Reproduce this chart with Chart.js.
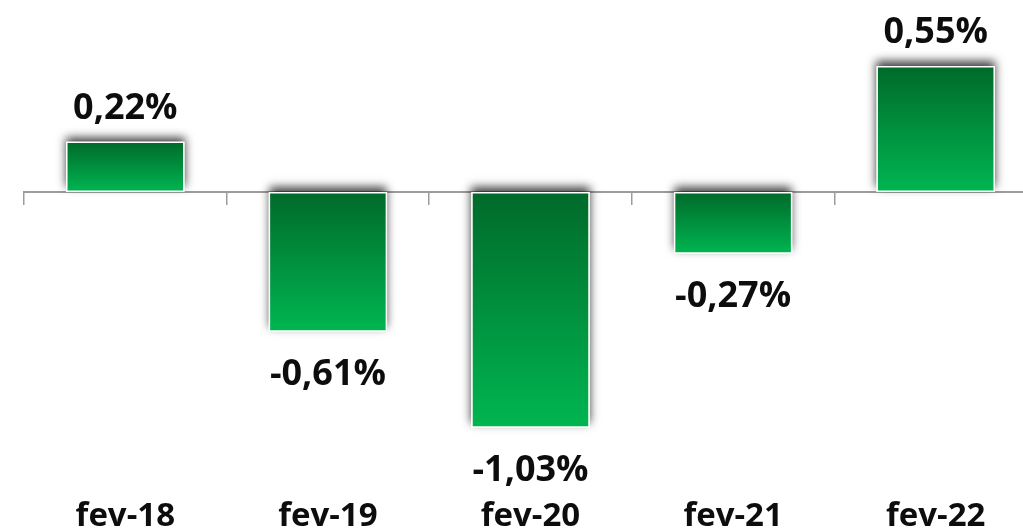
<!DOCTYPE html>
<html>
<head>
<meta charset="utf-8">
<script src="https://cdn.jsdelivr.net/npm/chart.js@4/dist/chart.umd.min.js"></script>
<style>
    html, body { margin: 0; padding: 0; background: #fff; overflow: hidden; }
    #wrap { width: 1040px; height: 531px; }
</style>
</head>
<body>
<div id="wrap"><canvas id="chart"></canvas></div>
<script>
    'use strict';

    // data
    const categories = ['fev-18', 'fev-19', 'fev-20', 'fev-21', 'fev-22'];
    const values = [0.22, -0.61, -1.03, -0.27, 0.55];

    const FONT = '"Open Sans", "Liberation Sans", sans-serif';
    const DARK = '#006a2a';
    const LIGHT = '#00b651';
    const PX_PER_UNIT = 229;

    function barGradient(c) {
        const chart = c.chart;
        if (!chart.chartArea || c.raw === undefined) { return LIGHT; }
        const y = chart.scales.y;
        const top = y.getPixelForValue(Math.max(c.raw, 0));
        const bottom = y.getPixelForValue(Math.min(c.raw, 0));
        const g = chart.ctx.createLinearGradient(0, top, 0, bottom + 0.01);
        g.addColorStop(0, DARK);
        g.addColorStop(1, LIGHT);
        return g;
    }

    // soft grey shadow under each bar (drawn once, so the white edge stays clean)
    const barShadow = {
        id: 'barShadow',
        beforeDatasetsDraw(chart) {
            const ctx = chart.ctx;
            ctx.save();
            ctx.shadowColor = 'rgba(0,0,0,0.75)';
            ctx.shadowBlur = 9;
            ctx.shadowOffsetY = -5;
            ctx.fillStyle = '#fff';
            chart.getDatasetMeta(0).data.forEach(el => {
                const p = el.getProps(['x', 'y', 'base', 'width'], true);
                ctx.fillRect(p.x - p.width / 2, Math.min(p.y, p.base), p.width, Math.abs(p.base - p.y));
            });
            ctx.restore();
        }
    };

    const valueLabels = {
        id: 'valueLabels',
        afterDatasetsDraw(chart) {
            const ctx = chart.ctx;
            ctx.save();
            ctx.font = 'bold 36px ' + FONT;
            ctx.fillStyle = '#0d0d0d';
            ctx.textAlign = 'center';
            ctx.textBaseline = 'alphabetic';
            chart.getDatasetMeta(0).data.forEach((el, i) => {
                const v = values[i];
                const txt = v.toFixed(2).replace('.', ',') + '%';
                const yy = v >= 0 ? el.y - 23 : el.y + 53;
                ctx.fillText(txt, el.x, yy);
            });
            ctx.restore();
        }
    };

    new Chart(document.getElementById('chart').getContext('2d'), {
        type: 'bar',
        data: {
            labels: categories,
            datasets: [{
                data: values,
                backgroundColor: barGradient,
                borderColor: '#ffffff',
                borderWidth: 1.5,
                borderSkipped: false,
                barPercentage: 0.585,
                categoryPercentage: 1
            }]
        },
        options: {
            responsive: true,
            maintainAspectRatio: false,
            animation: false,
            layout: { padding: { left: 24, right: 3, top: 0, bottom: 0 } },
            plugins: { legend: { display: false }, tooltip: { enabled: false } },
            scales: {
                y: {
                    display: false,
                    min: -(490 - 192) / PX_PER_UNIT,
                    max: 192 / PX_PER_UNIT
                },
                x: {
                    position: 'bottom',
                    grid: { display: false, drawTicks: false },
                    border: { display: false },
                    ticks: {
                        padding: 7,
                        color: '#0d0d0d',
                        font: { family: FONT, size: 33, weight: 'bold' }
                    },
                    afterFit(scale) { scale.height = 41; }
                },
                x2: {
                    type: 'category',
                    position: { y: 0 },
                    offset: true,
                    grid: {
                        offset: true,
                        drawOnChartArea: false,
                        tickLength: 12,
                        color: '#9c9c9c',
                        lineWidth: 1.5
                    },
                    border: { color: '#9c9c9c', width: 2 },
                    ticks: { display: false }
                }
            }
        },
        plugins: [barShadow, valueLabels]
    });
</script>
</body>
</html>
